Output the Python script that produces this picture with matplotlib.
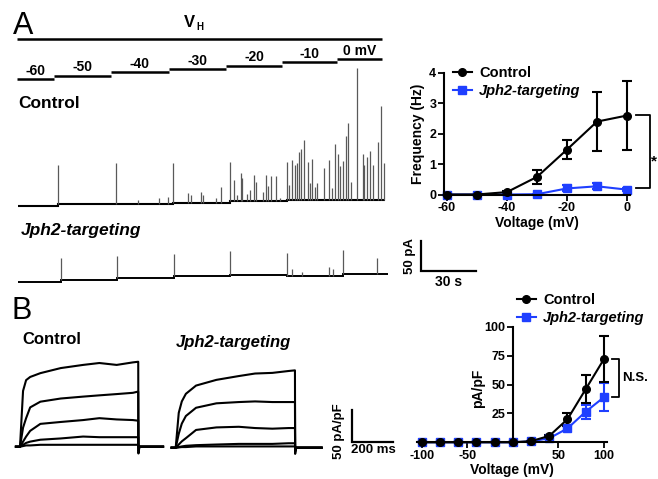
import numpy as np
import matplotlib
matplotlib.use('Agg')
import matplotlib.pyplot as plt
from matplotlib.lines import Line2D

plt.rcParams['font.family'] = ['Liberation Sans', 'DejaVu Sans']
plt.rcParams['font.weight'] = 'bold'
plt.rcParams['axes.labelweight'] = 'bold'
plt.rcParams['axes.unicode_minus'] = False

BLUE = '#1f3fff'
W, H = 658, 479

# ---- panel A: voltage protocol ----
step_volts = [-60, -50, -40, -30, -20, -10, 0]
step_labels = ['-60', '-50', '-40', '-30', '-20', '-10', '0 mV']
step_edges = [-0.5, 19.6, 50.7, 82.4, 113.5, 144.0, 174.0, 198.6]   # s

# ---- panel A: sparks traces (time s, current pA) ----
ctrl_edges = [0, 22.0, 53.3, 84.4, 115.7, 146.9, 178.4, 200.2]
ctrl_base = [0, 2.5, 3.3, 4.2, 6.7, 9.2, 10.0]
ctrl_spike_t = [22.0, 53.3, 65.5, 76.9, 81.8, 84.4, 92.5, 94.2, 100.1, 101.1,
                107.9, 110.6, 115.7, 118.0, 119.3, 121.5, 122.4, 124.8, 126.6, 128.6,
                130.0, 133.5, 135.3, 136.6, 137.9, 140.9, 142.9, 146.9, 148.0, 149.6,
                151.1, 152.4, 153.3, 154.2, 156.0, 158.0, 159.3, 160.4, 162.0, 163.3,
                166.9, 169.5, 171.1, 172.9, 174.7, 175.8, 177.1, 178.8, 179.9, 181.7,
                185.1, 188.0, 188.9, 190.6, 192.2, 193.8, 196.4, 198.0, 199.7]
ctrl_spike_h = [65, 67, 6, 9, 11, 67, 17, 14, 18, 13,
                8, 26, 65, 35, 11, 47, 39, 12, 19, 44,
                33, 15, 44, 26, 42, 43, 5, 63, 25, 67,
                58, 61, 80, 85, 100, 64, 28, 68, 22, 28,
                54, 66, 20, 93, 76, 56, 65, 105, 127, 30,
                219, 75, 58, 70, 81, 58, 96, 156, 60]

jph2_edges = [0, 23.3, 54.2, 84.9, 115.7, 146.6, 177.5, 201.7]
jph2_base = [0, 3.8, 7.7, 11.0, 12.0, 11.0, 13.3]
jph2_spike_t = [23.3, 54.2, 84.9, 115.7, 146.6, 149.3, 154.8, 169.8, 171.7, 177.5, 195.7]
jph2_spike_h = [36, 36, 37, 41, 38, 12, 7, 15, 11, 40, 28]

# ---- panel A: frequency vs voltage ----
freq_v = [-60, -50, -40, -30, -20, -10, 0]
freq_ctrl = [0, 0, 0.08, 0.58, 1.48, 2.40, 2.60]
freq_ctrl_err = [0, 0, 0.05, 0.23, 0.30, 0.97, 1.13]
freq_jph2 = [0, 0, 0, 0.01, 0.20, 0.27, 0.16]
freq_jph2_err = [0, 0, 0, 0.02, 0.10, 0.10, 0.06]

# ---- panel B: current traces (time ms, pA/pF) ----
b_ctrl_t = [0, 15, 30, 50, 100, 200, 310, 390, 475, 555, 581]
b_ctrl_sweeps = [
    [0, 88, 105, 110, 116, 124, 129, 132, 129, 133, 134],
    [0, 30, 45, 62, 71, 76, 79, 81, 83, 85, 87],
    [0, 8, 16, 25, 36, 39, 42, 45, 43, 42, 41],
    [0, 3, 6, 8, 11, 13, 16, 15, 15, 15, 15],
    [0, 1, 2, 2, 3, 3, 3, 3, 3, 3, 3],
]
b_jph2_t = [0, 15, 30, 50, 100, 200, 310, 390, 475, 555, 586]
b_jph2_sweeps = [
    [0, 55, 73, 85, 98, 107, 113, 117, 118, 121, 122],
    [0, 22, 38, 50, 63, 70, 72, 73, 72, 72, 72],
    [0, 5, 10, 15, 28, 32, 33, 31, 30, 31, 31],
    [0, 1, 2, 3, 4, 5, 6, 6, 6, 7, 7],
    [0, 0.5, 1, 1, 2, 2, 2, 2, 2, 2, 2],
]

# ---- panel B: I-V ----
iv_v = [-100, -80, -60, -40, -20, 0, 20, 40, 60, 80, 100]
iv_ctrl = [0, 0, 0, 0, 0, 0, 1.0, 5.5, 20, 46, 72]
iv_ctrl_err = [0, 0, 0, 0, 0, 0, 0.5, 1.0, 5.5, 12, 20]
iv_jph2 = [0, 0, 0, 0, 0, 0, 0.8, 3.5, 12, 26.5, 39]
iv_jph2_err = [0, 0, 0, 0, 0, 0, 0.5, 1.0, 2.0, 6, 12]


fig = plt.figure(figsize=(W / 100, H / 100), dpi=100)


def px_axes(box, xmap, ymap, off=True):
    # box = (left, top, right, bottom) in pixels; map = (pixel, value, pixels per unit)
    l, t, r, b = box
    ax = fig.add_axes([l / W, 1 - b / H, (r - l) / W, (b - t) / H])
    x0, d0, k = xmap
    ax.set_xlim(d0 + (l - x0) / k, d0 + (r - x0) / k)
    y0, e0, m = ymap
    ax.set_ylim(e0 + (y0 - b) / m, e0 + (y0 - t) / m)
    ax.patch.set_alpha(0)
    if off:
        ax.axis('off')
    return ax


def local_base(t, edges, base):
    i = np.clip(np.searchsorted(edges, t, side='right') - 1, 0, len(base) - 1)
    return np.asarray(base)[i]


fig.text(13 / W, 1 - 34 / H, 'A', fontsize=22, fontweight='normal', va='baseline')
fig.text(11 / W, 1 - 319 / H, 'B', fontsize=22, fontweight='normal', va='baseline')
fig.text(184 / W, 1 - 27 / H, 'V', fontsize=12, va='baseline')
fig.text(196 / W, 1 - 30 / H, 'H', fontsize=7, va='baseline')

# protocol
ax_p = px_axes((0, 0, 400, 90), (18, 0, 1.833), (59, 0, 0.333))
ax_p.hlines(60, step_edges[0], step_edges[-1], color='k', lw=1.8)
ax_p.hlines(step_volts, step_edges[:-1], step_edges[1:], color='k', lw=1.8)
for v, lab, a, b in zip(step_volts, step_labels, step_edges[:-1], step_edges[1:]):
    ax_p.annotate(lab, ((a + b) / 2, v), xytext=(0, 1.0), textcoords='offset points',
                  ha='center', va='bottom', fontsize=10)

# control sparks trace
ax_c = px_axes((0, 60, 480, 215), (18, 0, 1.833), (205.5, 0, 0.6))
cb = local_base(np.array(ctrl_spike_t), ctrl_edges, ctrl_base)
ax_c.vlines(ctrl_spike_t, cb, cb + np.array(ctrl_spike_h), color='0.35', lw=0.9)
ax_c.stairs(ctrl_base, ctrl_edges, color='k', lw=1.5, baseline=None)
fig.text(18 / W, 1 - 103 / H, 'Control', fontsize=12.5, va='center')

# jph2 sparks trace
ax_j = px_axes((0, 235, 490, 292), (18, 0, 1.833), (282.3, 0, 0.6))
jb = local_base(np.array(jph2_spike_t), jph2_edges, jph2_base)
ax_j.vlines(jph2_spike_t, jb, jb + np.array(jph2_spike_h), color='0.35', lw=0.9)
ax_j.stairs(jph2_base, jph2_edges, color='k', lw=1.4, baseline=None)
fig.text(21 / W, 1 - 231 / H, 'Jph2-targeting', fontsize=12.5, style='italic', va='center')
# scale bar 30 s / 50 pA
sb_t, sb_i = 219.7, 19.3
ax_j.plot([sb_t, sb_t, sb_t + 30], [sb_i + 50, sb_i, sb_i], color='k', lw=1.6,
          solid_joinstyle='miter', clip_on=False)
ax_j.annotate('50 pA', (sb_t, sb_i + 25), xytext=(-8, 0), textcoords='offset points',
              rotation=90, ha='center', va='center', fontsize=9.5)
ax_j.annotate('30 s', (sb_t + 15, sb_i), xytext=(0, -3), textcoords='offset points',
              ha='center', va='top', fontsize=10)


def style_axes(ax):
    for s in ['top', 'right']:
        ax.spines[s].set_visible(False)
    for s in ['left', 'bottom']:
        ax.spines[s].set_linewidth(1.5)
    ax.tick_params(direction='out', length=4, width=1.3, labelsize=9, pad=1.5)
    for lab in ax.get_xticklabels() + ax.get_yticklabels():
        lab.set_fontweight('bold')


def legend(ax, x, y):
    hs = [Line2D([], [], color='k', marker='o', ms=5.5, lw=1.5),
          Line2D([], [], color=BLUE, marker='s', ms=5.5, lw=1.5)]
    leg = ax.legend(hs, ['Control', 'Jph2-targeting'], loc='upper left',
                    bbox_to_anchor=(x / W, 1 - y / H), bbox_transform=fig.transFigure,
                    frameon=False, borderpad=0, borderaxespad=0, handlelength=1.3,
                    handletextpad=0.5, labelspacing=0.25, prop={'weight': 'bold', 'size': 10.5})
    leg.get_texts()[1].set_style('italic')


# frequency plot
ax_f = px_axes((444, 73, 630, 194.5), (447, -60, 3.0), (194.5, 0, 30.4), off=False)
ax_f.errorbar(freq_v, freq_jph2, yerr=freq_jph2_err, color=BLUE, marker='s', ms=5.5,
              lw=1.5, capsize=3.5, elinewidth=1.5, capthick=1.5, clip_on=False)
ax_f.errorbar(freq_v, freq_ctrl, yerr=freq_ctrl_err, color='k', marker='o', ms=5.5,
              lw=1.5, capsize=3.5, elinewidth=1.5, capthick=1.5, clip_on=False)
ax_f.set_xticks([-60, -40, -20, 0])
ax_f.set_yticks([0, 1, 2, 3, 4])
ax_f.set_xlabel('Voltage (mV)', fontsize=10, labelpad=1)
ax_f.set_ylabel('Frequency (Hz)', fontsize=10, labelpad=3)
style_axes(ax_f)
ax_f.plot([3.0, 7.5, 7.5, 3.0], [2.61, 2.61, 0.2, 0.2], color='k', lw=1.3, clip_on=False)
ax_f.text(7.9, 1.1, '*', fontsize=11, ha='left', va='center', clip_on=False)
legend(ax_f, 453, 66)

# panel B traces
fig.text(22 / W, 1 - 340 / H, 'Control', fontsize=12, va='center')
fig.text(176 / W, 1 - 343 / H, 'Jph2-targeting', fontsize=12, style='italic', va='center')


def draw_sweeps(ax, t, sweeps, t_end):
    for s in sweeps:
        tt = [-20] + t + [t[-1] + 1, t[-1] + 6, t_end]
        yy = [0] + s + [-0.08 * s[-1], 0, 0]
        ax.plot(tt, yy, color='k', lw=1.5)


ax_bc = px_axes((10, 350, 172, 462), (20, 0, 0.2035), (446.7, 0, 0.634))
draw_sweeps(ax_bc, b_ctrl_t, b_ctrl_sweeps, 703)
ax_bj = px_axes((165, 350, 420, 462), (175.7, 0, 0.2035), (447.7, 0, 0.634))
draw_sweeps(ax_bj, b_jph2_t, b_jph2_sweeps, 717)
sb_t2, sb_i2 = 866, 9.5
ax_bj.plot([sb_t2, sb_t2, sb_t2 + 200], [sb_i2 + 50, sb_i2, sb_i2], color='k', lw=1.6,
           solid_joinstyle='miter', clip_on=False)
ax_bj.annotate('50 pA/pF', (sb_t2, sb_i2 + 25), xytext=(-9, -4), textcoords='offset points',
               rotation=90, ha='center', va='center', fontsize=9.5)
ax_bj.annotate('200 ms', (sb_t2 + 100, sb_i2), xytext=(1, -2), textcoords='offset points',
               ha='center', va='top', fontsize=9.5)

# I-V plot
ax_iv = px_axes((417, 326.7, 607, 442.3), (512.8, 0, 0.9116), (442.3, 0, 1.156), off=False)
ax_iv.errorbar(iv_v, iv_jph2, yerr=iv_jph2_err, color=BLUE, marker='s', ms=5.5,
               lw=1.5, capsize=3.5, elinewidth=1.5, capthick=1.5, clip_on=False)
ax_iv.errorbar(iv_v, iv_ctrl, yerr=iv_ctrl_err, color='k', marker='o', ms=5.5,
               lw=1.5, capsize=3.5, elinewidth=1.5, capthick=1.5, clip_on=False)
ax_iv.spines['left'].set_position(('data', 0))
ax_iv.set_xticks([-100, -50, 50, 100])
ax_iv.set_yticks([25, 50, 75, 100])
ax_iv.set_xlabel('Voltage (mV)', fontsize=10, labelpad=1)
style_axes(ax_iv)
fig.text(478 / W, 1 - 388 / H, 'pA/pF', fontsize=10, rotation=90, ha='center', va='center')
ax_iv.plot([108.5, 116.5, 116.5, 108.5], [71.8, 71.8, 38.9, 38.9], color='k', lw=1.3,
           clip_on=False)
ax_iv.text(120, 55.6, 'N.S.', fontsize=9.5, ha='left', va='center', clip_on=False)
legend(ax_iv, 517, 293)

fig.savefig('out.png', dpi=100)
